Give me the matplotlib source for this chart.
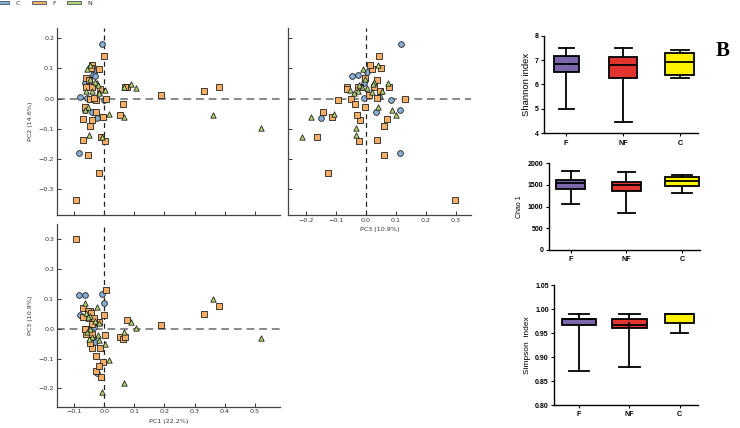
import matplotlib
matplotlib.use("Agg")
import matplotlib.pyplot as plt
from matplotlib.patches import Patch
import numpy as np

# PCA coordinates per sample: (PC1, PC2, PC3)
c_pc1 = [-0.007, -0.025, -0.085, -0.001, -0.065, -0.080, -0.056, -0.033, -0.064, -0.038, -0.040, -0.030]
c_pc2 = [0.182, -0.065, -0.179, -0.006, -0.038, 0.007, 0.003, 0.087, 0.053, 0.080, -0.043, 0.075]
c_pc3 = [0.116, -0.149, 0.113, 0.085, 0.113, 0.045, -0.006, 0.004, -0.006, -0.027, 0.035, -0.045]

f_pc1 = [0.000, -0.016, -0.040, -0.060, -0.049, -0.059, -0.039, -0.014, -0.046, -0.028,
         0.007, -0.065, -0.028, -0.070, -0.040, -0.003, -0.046, -0.070, -0.054, -0.011,
         0.002, -0.017, -0.095, 0.053, 0.063, 0.075, 0.187, 0.333, 0.382, -0.045,
         0.068, -0.035]
f_pc2 = [0.140, 0.097, 0.112, 0.067, 0.062, 0.038, 0.040, 0.031, -0.001, -0.003,
         -0.002, -0.027, -0.044, -0.066, -0.071, -0.059, -0.092, -0.137, -0.186, -0.126,
         -0.140, -0.246, -0.336, -0.053, -0.017, 0.040, 0.012, 0.025, 0.040, 0.103,
         0.038, 0.002]
f_pc3 = [0.045, 0.022, 0.014, -0.002, 0.037, -0.018, -0.064, -0.064, -0.049, -0.091,
         0.130, -0.002, -0.142, 0.070, -0.019, -0.112, 0.060, 0.038, 0.060, -0.161,
         -0.022, -0.125, 0.299, -0.029, -0.036, 0.029, 0.012, 0.048, 0.077, 0.051,
         -0.027, 0.037]

n_pc1 = [-0.048, -0.056, -0.048, -0.024, -0.030, -0.059, -0.039, -0.019, 0.003, -0.053,
         -0.064, -0.050, -0.007, 0.017, 0.066, 0.065, 0.089, 0.107, 0.361, 0.520,
         -0.020, -0.018]
n_pc2 = [0.112, 0.097, 0.064, 0.051, 0.055, 0.027, 0.024, 0.023, 0.029, -0.027,
         -0.038, -0.120, -0.128, -0.052, -0.062, 0.040, 0.049, 0.035, -0.053, -0.096,
         0.045, 0.020]
n_pc3 = [0.042, -0.010, -0.002, 0.074, 0.026, 0.054, -0.027, 0.020, -0.052, 0.040,
         0.087, -0.034, -0.211, -0.105, -0.181, -0.012, 0.023, 0.003, 0.100, -0.031,
         -0.021, -0.038]

# alpha diversity box stats: whislo, q1, med, q3, whishi
box_groups = ["F", "NF", "C"]
shannon = [[5.0, 6.5, 6.82, 7.18, 7.48], [4.45, 6.28, 6.8, 7.12, 7.48], [6.25, 6.38, 6.92, 7.3, 7.42]]
chao1 = [[1055, 1410, 1535, 1615, 1830], [848, 1360, 1500, 1578, 1800], [1308, 1478, 1590, 1680, 1730]]
simpson = [[0.87, 0.966, 0.98, 0.98, 0.99], [0.88, 0.96, 0.967, 0.98, 0.99], [0.95, 0.97, 0.99, 0.99, 0.99]]

col_c, col_f, col_n = "#88AED6", "#F4AE66", "#B3D66E"
box_cols = ["#7B66A9", "#E2352F", "#FFF200"]

fig = plt.figure(figsize=(7.4, 4.28), dpi=100)
fs = 4.6
tc = "#333333"


def pca_panel(rect, xs, ys, xlim, ylim, xticks, yticks, xlab=True, ylab=True):
    ax = fig.add_axes(rect)
    ax.axvline(0, color="#222222", lw=0.9, dashes=(4, 3), zorder=1)
    ax.axhline(0, color="#888888", lw=1.4, dashes=(4, 2.5), zorder=1)
    for x, y, c, m, s in zip(xs, ys, [col_c, col_f, col_n], ["o", "s", "^"], [17, 18, 15]):
        ax.scatter(x, y, c=c, marker=m, s=s, edgecolors="#222222", linewidths=0.6, zorder=3)
    ax.set_xlim(xlim)
    ax.set_ylim(ylim)
    ax.set_xticks(xticks)
    ax.set_yticks(yticks)
    if not xlab:
        ax.set_xticklabels([])
    if not ylab:
        ax.set_yticklabels([])
    for s in ["top", "right"]:
        ax.spines[s].set_visible(False)
    for s in ["left", "bottom"]:
        ax.spines[s].set_color("#444444")
        ax.spines[s].set_linewidth(0.9)
    ax.tick_params(direction="in", length=3, width=0.7, labelsize=fs, colors=tc, pad=2)
    return ax


pc_x = [c_pc1, f_pc1, n_pc1]
pc_y2 = [c_pc2, f_pc2, n_pc2]
pc_3 = [c_pc3, f_pc3, n_pc3]
xl1 = (-0.157, 0.584)
yl2 = (-0.385, 0.234)
yl3 = (-0.261, 0.35)

ax1 = pca_panel([0.077, 0.4977, 0.3014, 0.4369], pc_x, pc_y2, xl1, yl2,
                np.arange(-0.1, 0.51, 0.1), np.arange(-0.3, 0.21, 0.1), xlab=False)
ax1.set_ylabel("PC2 (14.6%)", fontsize=fs, color=tc, labelpad=4)

ax2 = pca_panel([0.3896, 0.4977, 0.2465, 0.4369], pc_3, pc_y2, (-0.258, 0.35), yl2,
                np.arange(-0.2, 0.31, 0.1), np.arange(-0.3, 0.21, 0.1), ylab=False)
ax2.set_xlabel("PC3 (10.9%)", fontsize=fs, color=tc, labelpad=3)

ax3 = pca_panel([0.077, 0.0498, 0.3014, 0.4268], pc_x, pc_3, xl1, yl3,
                np.arange(-0.1, 0.51, 0.1), np.arange(-0.2, 0.31, 0.1))
ax3.set_xlabel("PC1 (22.2%)", fontsize=fs, color=tc, labelpad=3)
ax3.set_ylabel("PC3 (10.9%)", fontsize=fs, color=tc, labelpad=4)

handles = [Patch(facecolor=c, edgecolor="#445566", lw=0.6) for c in [col_c, col_f, col_n]]
fig.legend(handles, ["C", "F", "N"], loc="upper left", bbox_to_anchor=(-0.014, 1.012),
           ncol=3, frameon=False, fontsize=fs, handlelength=2.2, handleheight=0.5,
           columnspacing=1.8, handletextpad=1.0, labelcolor=tc)


def box_panel(rect, vals, ylim, yticks, ylabel, ylfs, widths, xlim, fmt=None):
    ax = fig.add_axes(rect)
    stats = []
    for g, v in zip(box_groups, vals):
        stats.append(dict(label=g, whislo=v[0], q1=v[1], med=v[2], q3=v[3], whishi=v[4], fliers=[]))
    bp = ax.bxp(stats, positions=[1, 2, 3], widths=widths, patch_artist=True,
                capwidths=[w * 0.6 for w in widths],
                boxprops=dict(edgecolor="black", linewidth=1.3),
                medianprops=dict(color="black", linewidth=1.3),
                whiskerprops=dict(color="black", linewidth=1.3),
                capprops=dict(color="black", linewidth=1.3))
    for p, c in zip(bp["boxes"], box_cols):
        p.set_facecolor(c)
    ax.set_xlim(xlim)
    ax.set_ylim(ylim)
    ax.set_yticks(yticks)
    if fmt:
        ax.set_yticklabels([fmt % t for t in yticks])
    ax.set_xticks([1, 2, 3])
    ax.set_xticklabels(box_groups, fontweight="bold", fontsize=5.2, family="Liberation Sans")
    for s in ["top", "right"]:
        ax.spines[s].set_visible(False)
    for s in ["left", "bottom"]:
        ax.spines[s].set_linewidth(1.0)
    ax.tick_params(axis="y", labelsize=5, length=2.5, width=0.8, pad=1.5)
    ax.tick_params(axis="x", length=2.5, width=0.8, pad=2)
    for t in ax.get_yticklabels():
        t.set_family("Liberation Sans")
        t.set_fontweight("bold")
    ax.set_ylabel(ylabel, fontsize=ylfs, family="Liberation Sans", labelpad=3)
    return ax


box_panel([0.7355, 0.6886, 0.2077, 0.228], shannon, (4, 8), [4, 5, 6, 7, 8],
          "Shannon index", 6.8, [0.44, 0.5, 0.51], (0.614, 3.316))
box_panel([0.7415, 0.4159, 0.2045, 0.2026], chao1, (0, 2000), [0, 500, 1000, 1500, 2000],
          "Chao 1", 5.0, [0.52, 0.52, 0.61], (0.609, 3.32))
ax6 = box_panel([0.749, 0.0537, 0.194, 0.2804], simpson, (0.8, 1.05),
                [0.80, 0.85, 0.90, 0.95, 1.00, 1.05], "Simpson  index", 6.0,
                [0.69, 0.7, 0.57], (0.51, 3.36), fmt="%.2f")
ax6.plot([2], [0.967], marker="+", color="black", markersize=5, mew=1.2, zorder=5)

fig.text(0.977, 0.88, "B", fontsize=15, fontweight="bold", family="Liberation Serif",
         ha="center", va="center")

fig.savefig("out.png", dpi=100)
